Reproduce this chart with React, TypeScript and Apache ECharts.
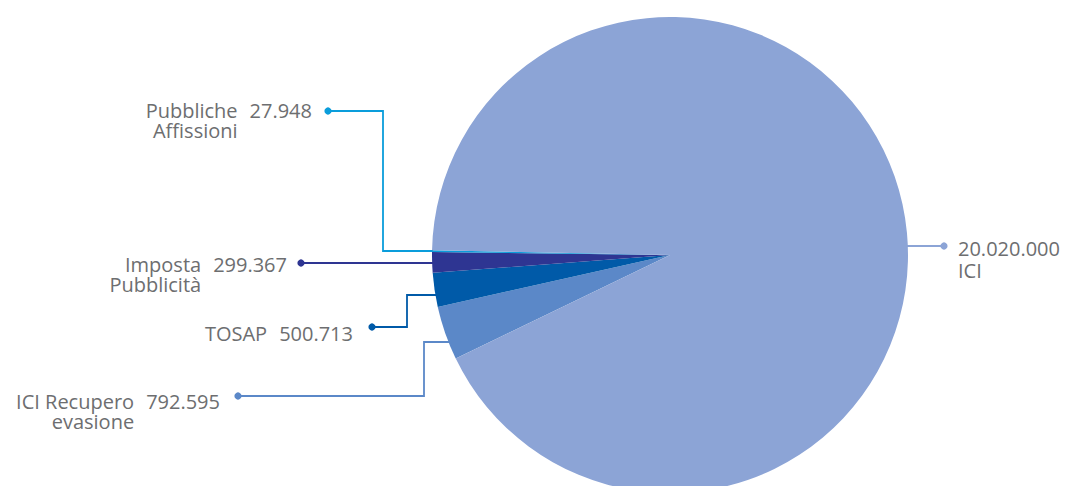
import React, { useEffect, useRef } from "react";
import * as echarts from "echarts";

// ---- data ----
const categories = ["ICI Recupero evasione", "TOSAP", "Imposta Pubblicità", "Pubbliche Affissioni", "ICI"];
const labelNames = [["ICI Recupero", "evasione"], ["TOSAP"], ["Imposta", "Pubblicità"], ["Pubbliche", "Affissioni"], ["ICI"]];
const values = [792595, 500713, 299367, 27948, 20020000];
const colors = ["#5b88c8", "#005aa8", "#2e3592", "#0a9ddb", "#8ca4d6"];

// ---- layout ----
const W = 1078;
const H = 486;
const CX = 670;
const CY = 255;
const R = 238;
const START_ANGLE = 205.8;
const FONT = "'Open Sans', sans-serif";
const FONT_SIZE = 20;
const TEXT_COLOR = "#6d6e70";
const GAP = 12;
const LH = 20;

type Place = {
  side: "left" | "right";
  edgeY: number;
  bendX: number | null;
  dotX: number;
  dotY: number;
  textX: number;
  textY: number;
  lh: number;
};

const places: Place[] = [
  { side: "left", edgeY: 342, bendX: 424, dotX: 238, dotY: 396, textX: 220, textY: 401, lh: LH },
  { side: "left", edgeY: 295, bendX: 407, dotX: 372, dotY: 327, textX: 353, textY: 333, lh: LH },
  { side: "left", edgeY: 263, bendX: null, dotX: 301, dotY: 263, textX: 287, textY: 264, lh: LH },
  { side: "left", edgeY: 251, bendX: 383, dotX: 328, dotY: 111, textX: 312, textY: 110, lh: LH },
  { side: "right", edgeY: 246, bendX: null, dotX: 944, dotY: 246, textX: 958, textY: 248, lh: 22 },
];

const fmt = (v: number) => String(v).replace(/\B(?=(\d{3})+(?!\d))/g, ".");

function measure(text: string): number {
  const c = document.createElement("canvas");
  const ctx = c.getContext("2d");
  if (!ctx) return text.length * 11;
  ctx.font = `${FONT_SIZE}px ${FONT}`;
  return ctx.measureText(text).width;
}

export default function App() {
  const ref = useRef<HTMLDivElement>(null);

  useEffect(() => {
    if (!ref.current) return;
    const chart = echarts.init(ref.current, undefined, { renderer: "svg" });

    const baseText = { fontFamily: FONT, fontSize: FONT_SIZE, color: TEXT_COLOR };
    const rich: Record<string, any> = {
      n: { ...baseText, lineHeight: LH },
      v: { ...baseText, lineHeight: LH },
      g: { width: GAP, lineHeight: LH },
      nr: { ...baseText, lineHeight: 22 },
      vr: { ...baseText, lineHeight: 22 },
    };
    values.forEach((v, i) => {
      rich["pad" + i] = { width: GAP + measure(fmt(v)), lineHeight: LH };
    });

    const formatter = (p: any) => {
      const i = p.dataIndex;
      const pl = places[i];
      const nm = labelNames[i];
      const val = fmt(values[i]);
      if (pl.side === "right") {
        return `{vr|${val}}\n{nr|${nm.join(" ")}}`;
      }
      let s = `{n|${nm[0]}}{g|}{v|${val}}`;
      if (nm.length > 1) s += `\n{n|${nm[1]}}{pad${i}|}`;
      return s;
    };

    const labelLayout = (p: any) => {
      const i = p.dataIndex;
      const pl = places[i];
      const dy = pl.edgeY - CY;
      const dx = Math.sqrt(Math.max(0, (R - 1) * (R - 1) - dy * dy));
      if (pl.side === "right") {
        const ex = CX + dx;
        return {
          x: pl.textX,
          y: pl.textY - pl.lh / 2,
          align: "left",
          verticalAlign: "top",
          labelLinePoints: [[ex, pl.edgeY], [(ex + pl.dotX) / 2, pl.edgeY], [pl.dotX, pl.dotY]],
        };
      }
      const ex = CX - dx;
      const pts =
        pl.bendX == null
          ? [[ex, pl.edgeY], [(ex + pl.dotX) / 2, pl.dotY], [pl.dotX, pl.dotY]]
          : [[ex, pl.edgeY], [pl.bendX, pl.edgeY], [pl.bendX, pl.dotY], [pl.dotX, pl.dotY]];
      return {
        x: pl.textX,
        y: pl.textY - pl.lh / 2,
        align: "right",
        verticalAlign: "top",
        labelLinePoints: pts,
      };
    };

    chart.setOption({
      animation: false,
      backgroundColor: "#ffffff",
      series: [
        {
          type: "pie",
          center: [CX, CY],
          radius: [0, R],
          startAngle: START_ANGLE,
          clockwise: true,
          avoidLabelOverlap: false,
          silent: true,
          itemStyle: { borderWidth: 0 },
          label: {
            show: true,
            position: "outside",
            formatter,
            rich,
            fontFamily: FONT,
            fontSize: FONT_SIZE,
            color: TEXT_COLOR,
          },
          labelLine: { show: true, lineStyle: { width: 1.8 } },
          labelLayout,
          data: values.map((v, i) => ({
            value: v,
            name: categories[i],
            itemStyle: { color: colors[i] },
          })),
        },
      ],
      graphic: places.map((pl, i) => ({
        type: "circle",
        shape: { cx: pl.dotX, cy: pl.dotY, r: 3.6 },
        style: { fill: colors[i] },
        z: 100,
        silent: true,
      })),
    });

    return () => chart.dispose();
  }, []);

  return (
    <div
      ref={ref}
      style={{ position: "absolute", left: 0, top: 0, width: W, height: H }}
    />
  );
}
